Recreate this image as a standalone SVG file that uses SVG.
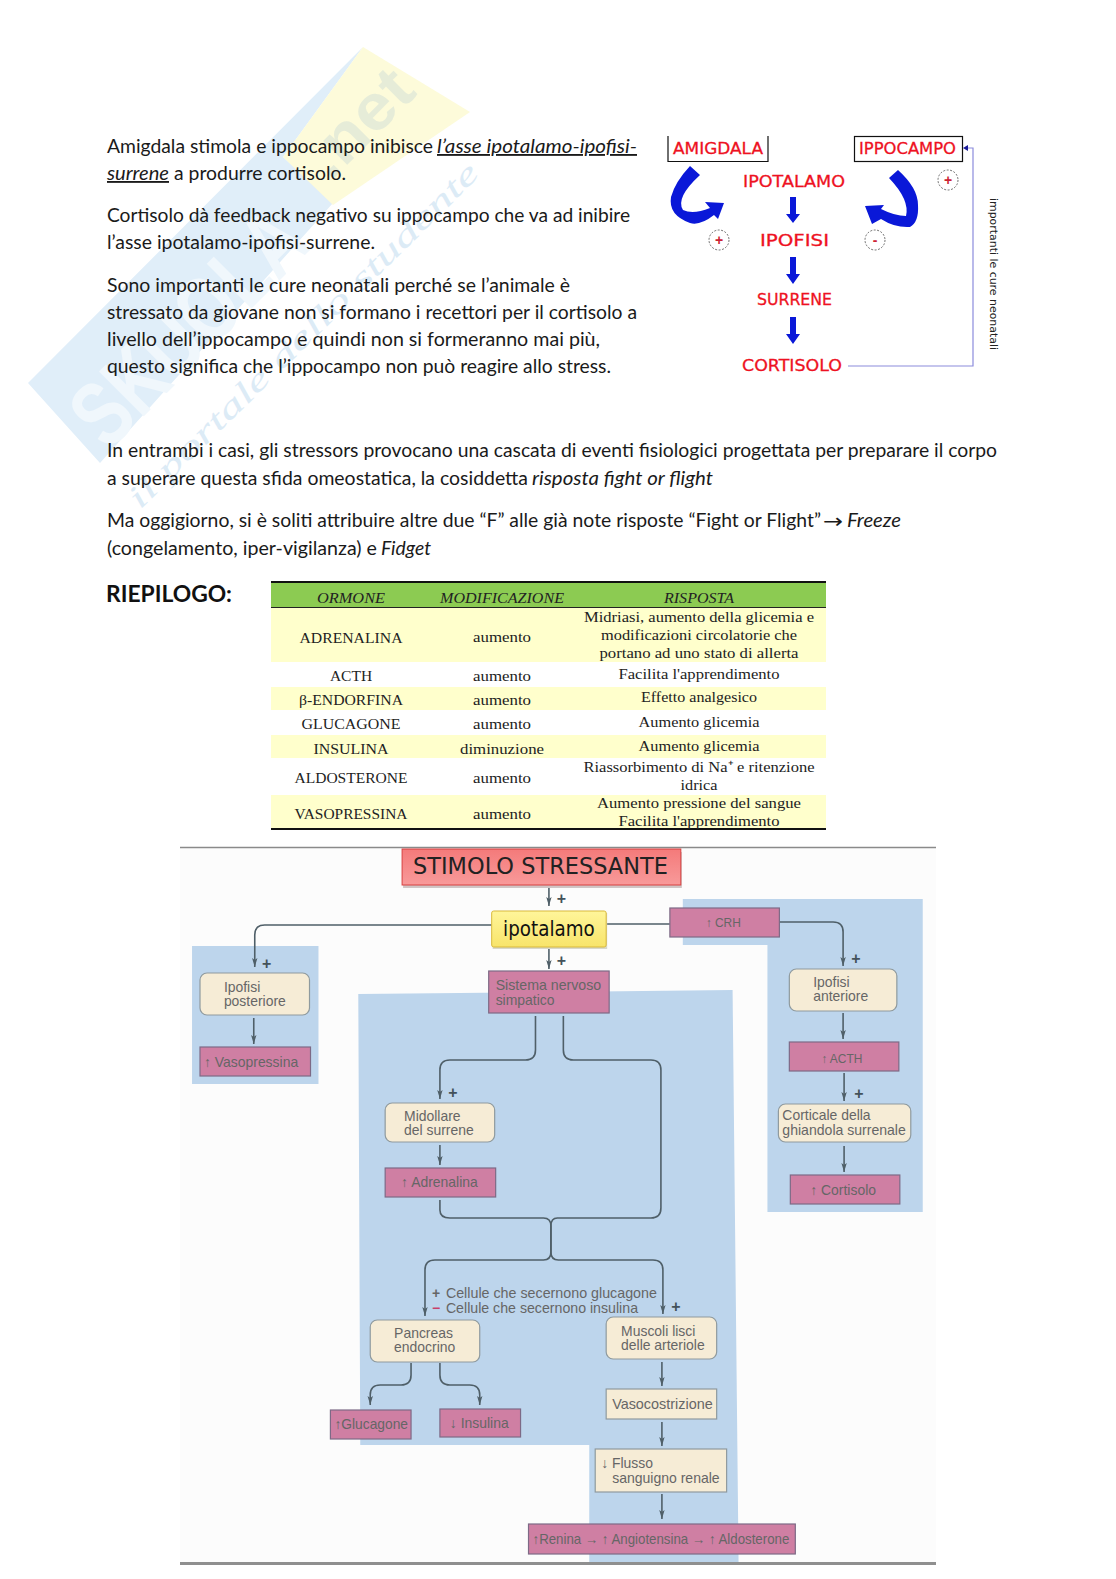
<svg xmlns="http://www.w3.org/2000/svg" width="1116" height="1579" viewBox="0 0 1116 1579">
<style>
.b{font-family:Lato,"Liberation Sans",Arial,sans-serif;font-size:18.5px;fill:#1a1a1a}
.i{font-style:italic}.u{text-decoration:underline}
.r{font-family:"DejaVu Sans",sans-serif;font-size:16px;fill:#ee1122;stroke:#ee1122;stroke-width:.3}
.t{font-family:"Liberation Serif",serif;font-size:15.5px;fill:#222;text-anchor:middle}
.d{font-family:"Liberation Sans",Arial,sans-serif;font-size:14px;fill:#666}
.bg{fill:#bdd5ec}
.cr{fill:#f6ecd6;stroke:#8f9a9e;stroke-width:1.2}
.pk{fill:#cf7fa3;stroke:#7d6a86;stroke-width:1.2}
.l{fill:none;stroke:#4f5f68;stroke-width:1.6}
.p{font-family:"Liberation Sans",Arial,sans-serif;font-size:16px;font-weight:bold;fill:#44525a;text-anchor:middle}
.c{fill:none;stroke:#333;stroke-width:.7;stroke-dasharray:2 1.5}
.ba{fill:#0a18d8}
.sg{font-family:"Liberation Sans",sans-serif;font-size:14px;font-weight:bold;fill:#cc2233;text-anchor:middle}
</style>
<defs>
<marker id="a" markerWidth="9" markerHeight="6" refX="9" refY="3" orient="auto" markerUnits="userSpaceOnUse"><path d="M0,0.300L9,3L0,5.700L2,3Z" fill="#4f5f68"/></marker>
<linearGradient id="gr" x1="0" y1="0" x2="0" y2="1"><stop offset="0" stop-color="#f47a7a"/><stop offset="1" stop-color="#f89a9a"/></linearGradient>
<linearGradient id="gy" x1="0" y1="0" x2="0" y2="1"><stop offset="0" stop-color="#fff59a"/><stop offset="1" stop-color="#f8e46a"/></linearGradient>
</defs>
<rect width="1116" height="1579" fill="#fff"/>
<g id="watermark">
<polygon points="363,47 28,383 100,463 333,203 283,157" fill="#e0eef9"/>
<polygon points="363,47 470,112 333,205 283,157" fill="#fdfbda"/>
<text transform="translate(108,452) rotate(-45)" font-family="Liberation Sans,sans-serif" font-weight="bold" font-size="92" fill="#f0f7fc" textLength="290" lengthAdjust="spacingAndGlyphs">SKUOLA</text>
<text transform="translate(330,182) rotate(-45)" font-family="Liberation Sans,sans-serif" font-weight="bold" font-size="64" fill="#e6ecd8" textLength="125" lengthAdjust="spacingAndGlyphs">.net</text>
<text transform="translate(140,510) rotate(-44.500)" font-family="Liberation Serif,serif" font-style="italic" font-size="32" fill="#dcebf6" textLength="478" lengthAdjust="spacingAndGlyphs">il portale dello studente</text>
</g>
<g id="body-text" transform="translate(0,1)">
<text class="b" x="107" y="152" textLength="326" lengthAdjust="spacingAndGlyphs">Amigdala stimola e ippocampo inibisce</text>
<text class="b i u" x="437" y="152" textLength="200" lengthAdjust="spacingAndGlyphs">l’asse ipotalamo-ipofisi-</text>
<text class="b i u" x="107" y="179" textLength="62" lengthAdjust="spacingAndGlyphs">surrene</text>
<text class="b" x="174" y="179" textLength="172" lengthAdjust="spacingAndGlyphs">a produrre cortisolo.</text>
<text class="b" x="107" y="221" textLength="523" lengthAdjust="spacingAndGlyphs">Cortisolo dà feedback negativo su ippocampo che va ad inibire</text>
<text class="b" x="107" y="248" textLength="268" lengthAdjust="spacingAndGlyphs">l’asse ipotalamo-ipofisi-surrene.</text>
<text class="b" x="107" y="291" textLength="463" lengthAdjust="spacingAndGlyphs">Sono importanti le cure neonatali perché se l’animale è</text>
<text class="b" x="107" y="318" textLength="530" lengthAdjust="spacingAndGlyphs">stressato da giovane non si formano i recettori per il cortisolo a</text>
<text class="b" x="107" y="345" textLength="493" lengthAdjust="spacingAndGlyphs">livello dell’ippocampo e quindi non si formeranno mai più,</text>
<text class="b" x="107" y="372" textLength="504" lengthAdjust="spacingAndGlyphs">questo significa che l’ippocampo non può reagire allo stress.</text>
<text class="b" x="107" y="456" textLength="890" lengthAdjust="spacingAndGlyphs">In entrambi i casi, gli stressors provocano una cascata di eventi fisiologici progettata per preparare il corpo</text>
<text class="b" x="107" y="484" textLength="421" lengthAdjust="spacingAndGlyphs">a superare questa sfida omeostatica, la cosiddetta</text>
<text class="b i" x="532" y="484" textLength="181" lengthAdjust="spacingAndGlyphs">risposta fight or flight</text>
<text class="b" x="107" y="526" textLength="714" lengthAdjust="spacingAndGlyphs">Ma oggigiorno, si è soliti attribuire altre due “F” alle già note risposte “Fight or Flight”</text>
<text x="823" y="527" font-family="DejaVu Sans,sans-serif" font-size="20" fill="#1a1a1a" textLength="20" lengthAdjust="spacingAndGlyphs">→</text>
<text class="b i" x="847" y="526" textLength="54" lengthAdjust="spacingAndGlyphs">Freeze</text>
<text class="b" x="107" y="554" textLength="270" lengthAdjust="spacingAndGlyphs">(congelamento, iper-vigilanza) e</text>
<text class="b i" x="381" y="554" textLength="50" lengthAdjust="spacingAndGlyphs">Fidget</text>
<text x="106" y="601" font-family="Lato,Liberation Sans,sans-serif" font-weight="bold" font-size="23" fill="#111" textLength="126" lengthAdjust="spacingAndGlyphs">RIEPILOGO:</text>
</g>
<g id="connectors-top">
<path d="M848,366H973V148H965" fill="none" stroke="#8c8cdc" stroke-width="1.2"/>
<path d="M963,148l5,-3v6z" fill="#1a1a9a"/>
<path class="ba" d="M790,197h6v17h4l-7,9l-7,-9h4z"/>
<path class="ba" d="M790,257h6v17h4l-7,10l-7,-10h4z"/>
<path class="ba" d="M790,317h6v17h4l-7,10l-7,-10h4z"/>
<path class="ba" d="M690,166L700,175Q675,198 683,210Q693,215 710,208L705,202L724,203L718,219L714,215Q700,226 690,223Q668,215 671,197Q675,182 690,166Z"/>
<path class="ba" d="M898,170Q918,188 918,205Q919,222 910,227Q895,228 881,219L872,224L865,206L884,205L881,209Q895,216 906,216Q910,200 889,178Z"/>
</g>
<g id="n-amigdala"><path d="M668,136V161.500H768V136" fill="#fff" stroke="#111" stroke-width="1.2"/><text class="r" x="673" y="154" textLength="90" lengthAdjust="spacingAndGlyphs">AMIGDALA</text></g>
<g id="n-ippocampo"><rect x="854.500" y="136.500" width="108" height="25" fill="#fff" stroke="#111" stroke-width="1.2"/><text class="r" x="859" y="154" textLength="97" lengthAdjust="spacingAndGlyphs">IPPOCAMPO</text></g>
<g id="n-ipotalamo"><text class="r" x="743" y="187" textLength="102" lengthAdjust="spacingAndGlyphs">IPOTALAMO</text></g>
<g id="n-ipofisi"><text class="r" x="760" y="246" textLength="69" lengthAdjust="spacingAndGlyphs">IPOFISI</text></g>
<g id="n-surrene"><text class="r" x="757" y="305" textLength="75" lengthAdjust="spacingAndGlyphs">SURRENE</text></g>
<g id="n-cortisolo"><text class="r" x="742" y="371" textLength="100" lengthAdjust="spacingAndGlyphs">CORTISOLO</text></g>
<g id="signs">
<circle class="c" cx="719" cy="240" r="10"/><text class="sg" x="719" y="245">+</text>
<circle class="c" cx="948" cy="180" r="10"/><text class="sg" x="948" y="185">+</text>
<circle class="c" cx="875" cy="240" r="10"/><text class="sg" x="875" y="245">-</text>
<text transform="translate(990,198) rotate(90)" font-family="DejaVu Sans,sans-serif" font-size="10" fill="#222" textLength="152" lengthAdjust="spacingAndGlyphs">importanti le cure neonatali</text>
</g>
<g id="table">
<rect x="271" y="582" width="555" height="25" fill="#8ccb52"/>
<rect x="271" y="607" width="555" height="55" fill="#ffffcc"/>
<rect x="271" y="687" width="555" height="23" fill="#ffffcc"/>
<rect x="271" y="735" width="555" height="23" fill="#ffffcc"/>
<rect x="271" y="795" width="555" height="33" fill="#ffffcc"/>
<path d="M271,582H826" stroke="#111" stroke-width="2"/><path d="M271,607.500H826" stroke="#222" stroke-width="1"/><path d="M271,829H826" stroke="#111" stroke-width="2"/>
<text class="t i" x="351" y="603" textLength="68" lengthAdjust="spacingAndGlyphs">ORMONE</text>
<text class="t i" x="502" y="603" textLength="124" lengthAdjust="spacingAndGlyphs">MODIFICAZIONE</text>
<text class="t i" x="699" y="603" textLength="70" lengthAdjust="spacingAndGlyphs">RISPOSTA</text>
<text class="t" x="351" y="643" textLength="103" lengthAdjust="spacingAndGlyphs">ADRENALINA</text>
<text class="t" x="502" y="642" textLength="58" lengthAdjust="spacingAndGlyphs">aumento</text>
<text class="t" x="699" y="622" textLength="230" lengthAdjust="spacingAndGlyphs">Midriasi, aumento della glicemia e</text>
<text class="t" x="699" y="640" textLength="196" lengthAdjust="spacingAndGlyphs">modificazioni circolatorie che</text>
<text class="t" x="699" y="658" textLength="199" lengthAdjust="spacingAndGlyphs">portano ad uno stato di allerta</text>
<text class="t" x="351" y="681">ACTH</text><text class="t" x="502" y="681" textLength="58" lengthAdjust="spacingAndGlyphs">aumento</text>
<text class="t" x="699" y="679" textLength="161" lengthAdjust="spacingAndGlyphs">Facilita l'apprendimento</text>
<text class="t" x="351" y="705" textLength="104" lengthAdjust="spacingAndGlyphs">β-ENDORFINA</text><text class="t" x="502" y="705" textLength="58" lengthAdjust="spacingAndGlyphs">aumento</text>
<text class="t" x="699" y="702" textLength="116" lengthAdjust="spacingAndGlyphs">Effetto analgesico</text>
<text class="t" x="351" y="729" textLength="99" lengthAdjust="spacingAndGlyphs">GLUCAGONE</text><text class="t" x="502" y="729" textLength="58" lengthAdjust="spacingAndGlyphs">aumento</text>
<text class="t" x="699" y="727" textLength="121" lengthAdjust="spacingAndGlyphs">Aumento glicemia</text>
<text class="t" x="351" y="754" textLength="75" lengthAdjust="spacingAndGlyphs">INSULINA</text><text class="t" x="502" y="754" textLength="84" lengthAdjust="spacingAndGlyphs">diminuzione</text>
<text class="t" x="699" y="751" textLength="121" lengthAdjust="spacingAndGlyphs">Aumento glicemia</text>
<text class="t" x="351" y="783" textLength="113" lengthAdjust="spacingAndGlyphs">ALDOSTERONE</text><text class="t" x="502" y="783" textLength="58" lengthAdjust="spacingAndGlyphs">aumento</text>
<text class="t" x="699" y="772" textLength="231" lengthAdjust="spacingAndGlyphs">Riassorbimento di Na⁺ e ritenzione</text>
<text class="t" x="699" y="790" textLength="37" lengthAdjust="spacingAndGlyphs">idrica</text>
<text class="t" x="351" y="819" textLength="113" lengthAdjust="spacingAndGlyphs">VASOPRESSINA</text><text class="t" x="502" y="819" textLength="58" lengthAdjust="spacingAndGlyphs">aumento</text>
<text class="t" x="699" y="808" textLength="204" lengthAdjust="spacingAndGlyphs">Aumento pressione del sangue</text>
<text class="t" x="699" y="826" textLength="161" lengthAdjust="spacingAndGlyphs">Facilita l'apprendimento</text>
</g>
<g id="flow-background">
<rect x="180" y="848" width="756" height="715" fill="#fcfcfc"/>
<path d="M180,847.500H936" stroke="#8a8a8a" stroke-width="1.500"/>
<path d="M180,1563.500H936" stroke="#8f8f8f" stroke-width="3"/>
</g>
<g id="flow" transform="translate(.9 0) scale(.9955 1)">
<g id="panels">
<rect class="bg" x="192" y="946" width="127" height="138"/>
<path class="bg" d="M359,994L735,990L741,1562H591V1445H361Z"/>
<path class="bg" d="M685,899H926V1212H770V945H685Z"/>
</g>
<g id="connectors">
<path class="l" d="M550.500,885V906" marker-end="url(#a)"/>
<path class="l" d="M550.500,947V969" marker-end="url(#a)"/>
<path class="l" d="M493,925H265Q255,925 255,935V967" marker-end="url(#a)"/>
<path class="l" d="M608,924H672M782,922H836Q846,922 846,932V966" marker-end="url(#a)"/>
<path class="l" d="M254,1018V1044" marker-end="url(#a)"/>
<path class="l" d="M537,1016V1050Q537,1060 527,1060H451Q441,1060 441,1070V1099" marker-end="url(#a)"/>
<path class="l" d="M565,1016V1050Q565,1060 575,1060H653Q663,1060 663,1070V1208Q663,1218 653,1218H559Q552.500,1218 552.500,1226V1252Q552.500,1260 560,1260H655Q665,1260 665,1270V1314" marker-end="url(#a)"/>
<path class="l" d="M441,1200V1210Q441,1218 451,1218H545Q552.500,1218 552.500,1226V1252Q552.500,1260 545,1260H436Q426,1260 426,1270V1316" marker-end="url(#a)"/>
<path class="l" d="M441,1145V1165" marker-end="url(#a)"/>
<path class="l" d="M846,1013V1039" marker-end="url(#a)"/>
<path class="l" d="M847,1073V1101" marker-end="url(#a)"/>
<path class="l" d="M847,1146V1172" marker-end="url(#a)"/>
<path class="l" d="M664,1362V1386" marker-end="url(#a)"/>
<path class="l" d="M664,1422V1446" marker-end="url(#a)"/>
<path class="l" d="M664,1494V1519" marker-end="url(#a)"/>
<path class="l" d="M412,1363V1375Q412,1385 402,1385H381Q371,1385 371,1395V1405" marker-end="url(#a)"/>
<path class="l" d="M441,1363V1375Q441,1385 451,1385H471Q481,1385 481,1395V1405" marker-end="url(#a)"/>
<text class="p" x="563" y="904">+</text><text class="p" x="563" y="966">+</text><text class="p" x="267" y="969">+</text><text class="p" x="859" y="964">+</text><text class="p" x="862" y="1099">+</text><text class="p" x="454" y="1098">+</text><text class="p" x="678" y="1312">+</text>
</g>
<g id="n-stimolo"><rect x="404" y="852" width="280" height="36" fill="#cfc5c5"/><rect x="403" y="849" width="280" height="36" fill="url(#gr)" stroke="#d84040"/><text x="414" y="874" font-family="DejaVu Sans,sans-serif" font-size="23" fill="#222" textLength="256" lengthAdjust="spacingAndGlyphs">STIMOLO STRESSANTE</text></g>
<g id="n-ipotalamo2"><rect x="494" y="913" width="115" height="36" fill="#d8d8c8"/><rect x="493" y="911" width="115" height="36" rx="2" fill="url(#gy)" stroke="#d9b93a"/><text x="550.500" y="936" text-anchor="middle" font-family="DejaVu Sans,sans-serif" font-size="21" fill="#111" textLength="92" lengthAdjust="spacingAndGlyphs">ipotalamo</text></g>
<g id="n-crh"><rect class="pk" x="672" y="908" width="110" height="29"/><text class="d" x="708" y="927" style="font-size:12px">↑ CRH</text></g>
<g id="n-ipofisi-post"><rect class="cr" x="200" y="973" width="110" height="42" rx="7"/><text class="d" x="224" y="992">Ipofisi</text><text class="d" x="224" y="1006">posteriore</text></g>
<g id="n-vasopressina"><rect class="pk" x="200" y="1047" width="111" height="29"/><text class="d" x="204" y="1067">↑ Vasopressina</text></g>
<g id="n-sistema"><rect class="pk" x="490" y="971" width="121" height="42"/><text class="d" x="497" y="990" textLength="106" lengthAdjust="spacingAndGlyphs">Sistema nervoso</text><text class="d" x="497" y="1005">simpatico</text></g>
<g id="n-ipofisi-ant"><rect class="cr" x="792" y="969" width="108" height="42" rx="7"/><text class="d" x="816" y="987">Ipofisi</text><text class="d" x="816" y="1001">anteriore</text></g>
<g id="n-acth"><rect class="pk" x="792" y="1042" width="110" height="29"/><text class="d" x="824" y="1063" style="font-size:12px">↑ ACTH</text></g>
<g id="n-corticale"><rect class="cr" x="781" y="1104" width="133" height="38" rx="7"/><text class="d" x="785" y="1120">Corticale della</text><text class="d" x="785" y="1135" textLength="124" lengthAdjust="spacingAndGlyphs">ghiandola surrenale</text></g>
<g id="n-cortisolo2"><rect class="pk" x="793" y="1175" width="110" height="29"/><text class="d" x="813" y="1195">↑ Cortisolo</text></g>
<g id="n-midollare"><rect class="cr" x="386" y="1103" width="110" height="39" rx="7"/><text class="d" x="405" y="1121">Midollare</text><text class="d" x="405" y="1135">del surrene</text></g>
<g id="n-adrenalina"><rect class="pk" x="386" y="1168" width="111" height="29"/><text class="d" x="402" y="1187">↑ Adrenalina</text></g>
<g id="n-cellule"><text class="d" x="433" y="1298" style="font-weight:bold">+</text><text class="d" x="447" y="1298" textLength="212" lengthAdjust="spacingAndGlyphs">Cellule che secernono glucagone</text><text class="d" x="433" y="1313" style="fill:#c8406a;font-weight:bold">−</text><text class="d" x="447" y="1313" textLength="193" lengthAdjust="spacingAndGlyphs">Cellule che secernono insulina</text></g>
<g id="n-pancreas"><rect class="cr" x="371" y="1320" width="110" height="42" rx="7"/><text class="d" x="395" y="1338">Pancreas</text><text class="d" x="395" y="1352">endocrino</text></g>
<g id="n-muscoli"><rect class="cr" x="608" y="1317" width="111" height="42" rx="7"/><text class="d" x="623" y="1336">Muscoli lisci</text><text class="d" x="623" y="1350">delle arteriole</text></g>
<g id="n-glucagone"><rect class="pk" x="331" y="1410" width="81" height="29"/><text class="d" x="335" y="1429" textLength="74" lengthAdjust="spacingAndGlyphs">↑Glucagone</text></g>
<g id="n-insulina"><rect class="pk" x="441" y="1409" width="81" height="28"/><text class="d" x="451" y="1428">↓ Insulina</text></g>
<g id="n-vaso"><rect class="cr" x="608" y="1389" width="111" height="30"/><text class="d" x="614" y="1409" textLength="101" lengthAdjust="spacingAndGlyphs">Vasocostrizione</text></g>
<g id="n-flusso"><rect class="cr" x="597" y="1449" width="132" height="43"/><text class="d" x="603" y="1468">↓ Flusso</text><text class="d" x="614" y="1483" textLength="108" lengthAdjust="spacingAndGlyphs">sanguigno renale</text></g>
<g id="n-renina"><rect class="pk" x="530" y="1524" width="268" height="30"/><text class="d" x="534" y="1544" textLength="258" lengthAdjust="spacingAndGlyphs">↑Renina → ↑ Angiotensina → ↑ Aldosterone</text></g>
</g>
</svg>
